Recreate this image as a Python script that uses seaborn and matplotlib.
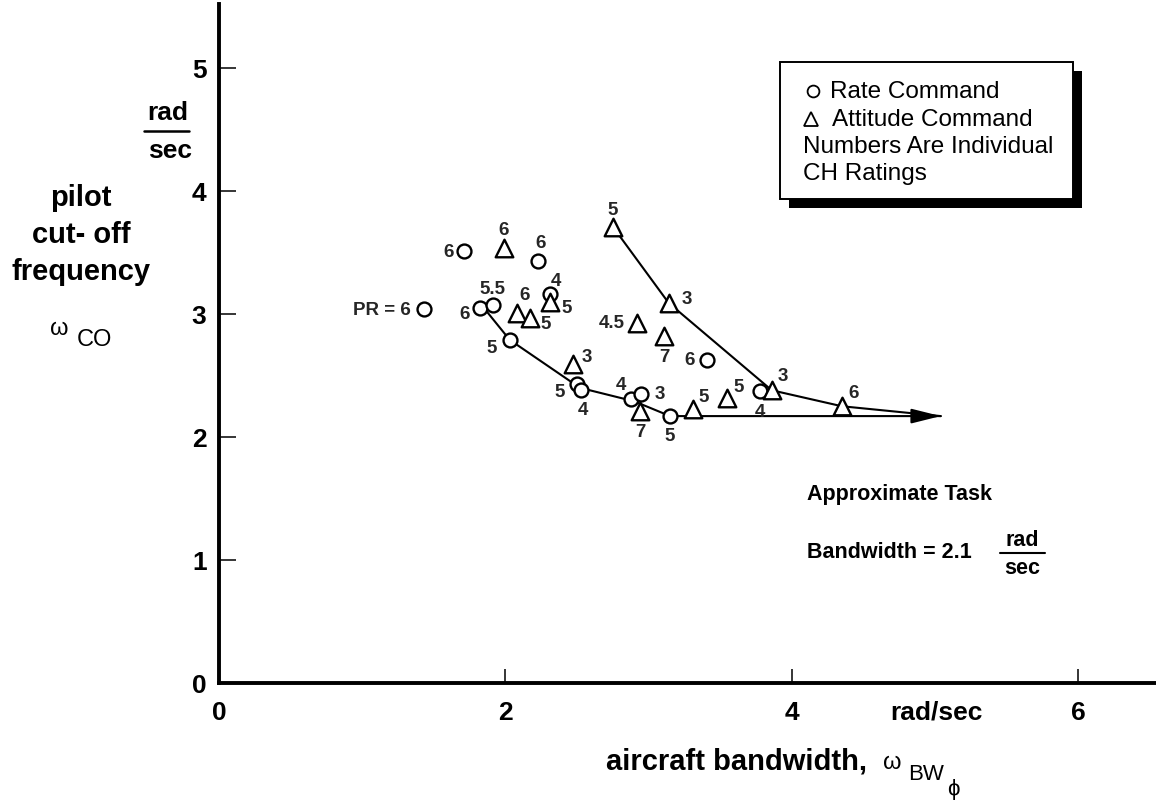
import matplotlib
matplotlib.use("Agg")
import matplotlib.pyplot as plt
from matplotlib.lines import Line2D
from matplotlib.patches import Rectangle
import seaborn as sns

# Rate command runs: aircraft bandwidth, pilot cut-off frequency (rad/sec), CH rating
rate_bw = [1.43, 1.71, 2.23, 2.31, 1.82, 1.91, 2.03, 2.50, 2.53, 2.88, 2.95, 3.15, 3.41, 3.78]
rate_co = [3.04, 3.51, 3.43, 3.16, 3.05, 3.07, 2.79, 2.43, 2.38, 2.31, 2.35, 2.17, 2.63, 2.37]
rate_pr = ["PR = 6", "6", "6", "4", "6", "5.5", "5", "5", "4", "4", "3", "5", "6", "4"]

# Attitude command runs
att_bw = [1.99, 2.08, 2.17, 2.31, 2.75, 3.14, 2.92, 3.11, 2.47, 2.94, 3.31, 3.55, 3.86, 4.35]
att_co = [3.54, 3.01, 2.97, 3.10, 3.71, 3.09, 2.93, 2.82, 2.59, 2.21, 2.23, 2.32, 2.38, 2.25]
att_pr = ["6", "6", "5", "5", "5", "3", "4.5", "7", "3", "7", "5", "5", "3", "6"]

# Faired trend lines for each command type
rate_fit_bw = [1.87, 2.03, 2.52, 2.90, 3.15, 5.04]
rate_fit_co = [3.02, 2.79, 2.40, 2.29, 2.17, 2.17]
att_fit_bw = [2.75, 3.14, 3.86, 4.35, 5.04]
att_fit_co = [3.71, 3.09, 2.38, 2.25, 2.17]

x_ticks = [0, 2, 4, 6]
y_ticks = [0, 1, 2, 3, 4, 5]
task_bandwidth = "2.1"

# label offsets (pixels, right/up) for the rating numbers
rate_off = [(-13, 0), (-15, 0), (2, 19), (6, 14), (-15, -6), (0, 17), (-18, -8),
            (-17, -7), (2, -19), (-10, 14), (18, 0), (0, -19), (-18, 0), (0, -20)]
att_off = [(0, 18), (8, 18), (16, -6), (17, -6), (0, 17), (18, 4), (-25, 0),
           (0, -20), (14, 8), (0, -20), (11, 12), (11, 11), (11, 15), (12, 14)]

W, H = 1156, 803
sns.set_style("ticks")
plt.rcParams["font.family"] = ["Liberation Sans", "DejaVu Sans"]

fig = plt.figure(figsize=(W / 100, H / 100), dpi=100)
ax = fig.add_axes([219 / W, 1 - 684 / H, (W - 219) / W, (684 - 5) / H])
ax.set_xlim(0, (W - 219) / 143.2)
ax.set_ylim(0, 679 / 123.0)

# trend lines
sns.lineplot(x=rate_fit_bw, y=rate_fit_co, sort=False, estimator=None,
             color="black", lw=1.5, ax=ax, zorder=2)
sns.lineplot(x=att_fit_bw, y=att_fit_co, sort=False, estimator=None,
             color="black", lw=1.5, ax=ax, zorder=2)
ax.annotate("", xy=(att_fit_bw[-1], att_fit_co[-1]),
            xytext=(att_fit_bw[-1] - 0.2, att_fit_co[-1]),
            arrowprops=dict(arrowstyle="-|>,head_length=1.8,head_width=0.45",
                            color="black", lw=1.5, shrinkA=0, shrinkB=0,
                            mutation_scale=10))

# data points
sns.scatterplot(x=rate_bw, y=rate_co, marker="o", s=100, color="white",
                edgecolor="black", linewidth=1.7, ax=ax, zorder=3)
sns.scatterplot(x=att_bw, y=att_co, marker="^", s=160, color="white",
                edgecolor="black", linewidth=1.7, ax=ax, zorder=3)

lab_kw = dict(textcoords="offset points", fontsize=13.5, fontweight="bold",
              va="center", zorder=4)
for x, y, s, (dx, dy) in zip(rate_bw, rate_co, rate_pr, rate_off):
    ha = "right" if s.startswith("PR") else "center"
    ax.annotate(s, (x, y), xytext=(dx * 0.72, dy * 0.72), ha=ha, **lab_kw)
for x, y, s, (dx, dy) in zip(att_bw, att_co, att_pr, att_off):
    ax.annotate(s, (x, y), xytext=(dx * 0.72, dy * 0.72), ha="center", **lab_kw)

# axes styling
for side in ("top", "right"):
    ax.spines[side].set_visible(False)
for side in ("left", "bottom"):
    ax.spines[side].set_linewidth(2.8)
    ax.spines[side].set_color("black")
ax.set_xticks(x_ticks)
ax.set_yticks(y_ticks)
ax.set_xticklabels([str(t) for t in x_ticks], fontsize=19, fontweight="bold")
ax.set_yticklabels([str(t) for t in y_ticks], fontsize=19, fontweight="bold")
ax.tick_params(axis="x", direction="in", length=10, width=1.1, pad=12, colors="black")
ax.tick_params(axis="y", direction="in", length=12, width=1.1, pad=9, colors="black")
ax.set_xlabel("")
ax.set_ylabel("")


def ftext(px, py, s, **kw):
    kw.setdefault("va", "center")
    kw.setdefault("ha", "center")
    kw.setdefault("color", "black")
    fig.text(px / W, 1 - py / H, s, **kw)


def fline(x0, x1, py, lw=1.5):
    fig.add_artist(Line2D([x0 / W, x1 / W], [1 - py / H, 1 - py / H],
                          color="black", lw=lw, transform=fig.transFigure))


# y-axis title and units
ftext(168, 113, "rad", fontsize=19, fontweight="bold")
fline(144, 189, 132, lw=1.8)
ftext(170, 151, "sec", fontsize=19, fontweight="bold")
ftext(81, 198, "pilot", fontsize=21, fontweight="bold")
ftext(81, 235, "cut- off", fontsize=21, fontweight="bold")
ftext(81, 272, "frequency", fontsize=21, fontweight="bold")
ftext(59, 329, "ω", fontsize=17)
ftext(94, 340, "CO", fontsize=17)

# x-axis title and units
ftext(890, 713, "rad/sec", fontsize=19, fontweight="bold", ha="left")
ftext(867, 762, "aircraft bandwidth,", fontsize=21, fontweight="bold", ha="right")
ftext(892, 763, "ω", fontsize=17)
ftext(926, 775, "BW", fontsize=16)
ftext(953, 790, "ϕ", fontsize=16)

# task bandwidth note
ftext(807, 495, "Approximate Task", fontsize=15.5, fontweight="bold", ha="left")
ftext(807, 553, "Bandwidth = " + task_bandwidth, fontsize=15.5, fontweight="bold", ha="left")
ftext(1022, 540, "rad", fontsize=15.5, fontweight="bold")
fline(1000, 1045, 554, lw=1.5)
ftext(1022, 569, "sec", fontsize=15.5, fontweight="bold")

# key box with drop shadow
bx0, by0, bx1, by1 = 780, 63, 1073, 200
fig.add_artist(Rectangle(((bx0 + 9) / W, 1 - (by1 + 9) / H), (bx1 - bx0) / W,
                         (by1 - by0) / H, transform=fig.transFigure,
                         facecolor="black", edgecolor="none", zorder=5))
fig.add_artist(Rectangle((bx0 / W, 1 - by1 / H), (bx1 - bx0) / W, (by1 - by0) / H,
                         transform=fig.transFigure, facecolor="white",
                         edgecolor="black", lw=1.4, zorder=6))
fig.add_artist(Line2D([813 / W], [1 - 92 / H], marker="o", markersize=8.5,
                      markerfacecolor="white", markeredgecolor="black",
                      markeredgewidth=1.3, transform=fig.transFigure, zorder=7))
fig.add_artist(Line2D([811 / W], [1 - 120 / H], marker="^", markersize=9.5,
                      markerfacecolor="white", markeredgecolor="black",
                      markeredgewidth=1.3, transform=fig.transFigure, zorder=7))
key_kw = dict(fontsize=17.5, ha="left", zorder=7)
ftext(830, 92, "Rate Command", **key_kw)
ftext(832, 120, "Attitude Command", **key_kw)
ftext(803, 147, "Numbers Are Individual", **key_kw)
ftext(803, 174, "CH Ratings", **key_kw)

fig.savefig("out.png", dpi=100, facecolor="white")
